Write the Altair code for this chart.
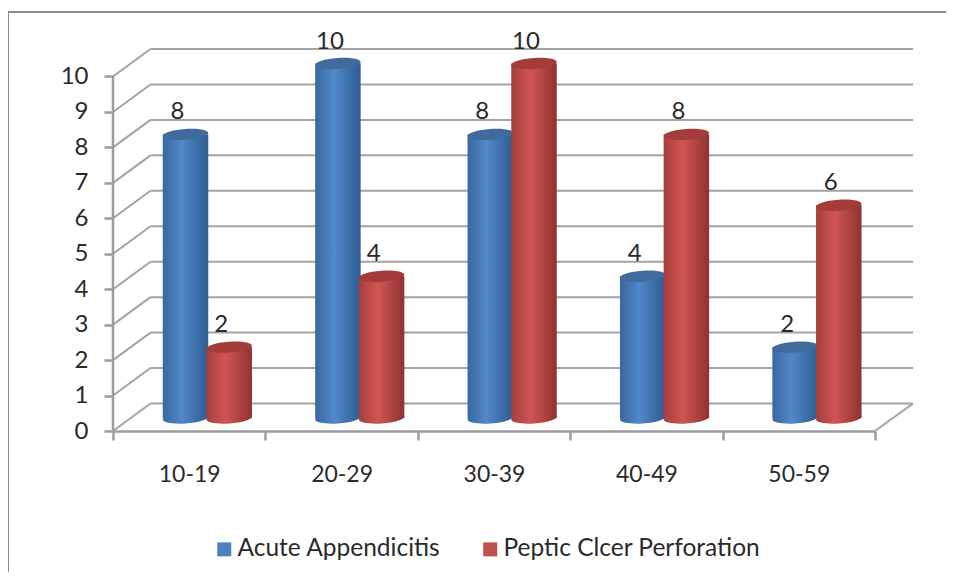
import altair as alt
import pandas as pd

categories = ["10-19", "20-29", "30-39", "40-49", "50-59"]
acute = [8, 10, 8, 4, 2]
peptic = [2, 4, 10, 8, 6]
series_names = ["Acute Appendicitis", "Peptic Clcer Perforation"]
legend_colors = ["#4f81bd", "#c0504d"]
levels = list(range(0, 11))

FONT = "Lato"
GRID = "#a3a3a3"
AXIS = "#9c9c9c"
DEPTH_Y = 27.5 / 35.45
ELLIPSE = "M-1,0.07 A1,0.24,-4,1,1,1,-0.07 A1,0.24,-4,1,1,-1,0.07 Z"

blue = pd.DataFrame({"cat": categories, "v": acute})
red = pd.DataFrame({"cat": categories, "v": peptic})
lv = pd.DataFrame({"v": levels})
lv["back"] = lv["v"] + DEPTH_Y
floor_df = pd.DataFrame({"v": [0], "back": [DEPTH_Y], "top": [10]})
leg = pd.DataFrame({"cat": [categories[0]] * 2, "s": series_names, "v": [0, 0]})

yscale = alt.Scale(domain=[0, 382 / 35.45], range=[382, 0], nice=False, zero=False)
xscale = alt.Scale(domain=categories, range=[0, 762], paddingInner=0, paddingOuter=0)
x_axis = alt.Axis(tickBand="extent", labelAngle=0, labelFont=FONT, labelFontSize=23,
                  labelColor="#2a2a2a", labelPadding=23, tickSize=9, tickWidth=2.5,
                  tickColor=AXIS, domainColor=AXIS, domainWidth=2.5, grid=False)
y_axis = alt.Axis(values=levels, format="d", labelFont=FONT, labelFontSize=24,
                  labelColor="#2a2a2a", labelPadding=16, tickSize=9, tickWidth=2.5,
                  tickColor=AXIS, domain=False, grid=False, labelOverlap=False)
X = alt.X("cat:N", scale=xscale, sort=categories, title=None, axis=x_axis)
Y = alt.Y("v:Q", scale=yscale, title=None, axis=y_axis)
Yb = alt.Y("back:Q", scale=yscale, title=None, axis=y_axis)


def grad(edge0, mid, edge1):
    return alt.Gradient(gradient="linear", x1=0, x2=1, y1=0, y2=0, stops=[
        alt.GradientStop(color=edge0, offset=0),
        alt.GradientStop(color=mid, offset=0.42),
        alt.GradientStop(color=edge1, offset=1),
    ])


BLUE = grad("#3a689f", "#5088c9", "#2f5c91")
RED = grad("#a53f3d", "#d05553", "#8f3331")
OFF_Y = -13
SIZE = 45.5 ** 2


def cylinder(df, dx, body, top):
    base = alt.Chart(df)
    bottom = base.mark_point(shape=ELLIPSE, filled=True, size=SIZE, fill=body, opacity=1,
                             strokeWidth=0, xOffset=dx, yOffset=OFF_Y).encode(
        x=X, y=alt.datum(0, scale=yscale, title=None, axis=y_axis))
    bar = base.mark_bar(size=45.5, fill=body, xOffset=dx, yOffset=OFF_Y, y2Offset=OFF_Y).encode(
        x=X, y=Y, y2=alt.datum(0))
    cap = base.mark_point(shape=ELLIPSE, filled=True, size=SIZE, fill=top, opacity=1,
                          strokeWidth=0, xOffset=dx, yOffset=OFF_Y).encode(x=X, y=Y)
    label = base.mark_text(font=FONT, fontSize=24, color="#2a2a2a", xOffset=dx - 8,
                           yOffset=OFF_Y - 22, baseline="middle").encode(
        x=X, y=Y, text=alt.Text("v:Q"))
    return [bottom, bar, cap, label]


wall = alt.Chart(lv).mark_rule(color=GRID, strokeWidth=2).encode(
    x=alt.value(37.5), x2=alt.value(800), y=Yb)
side = alt.Chart(lv).mark_rule(color=GRID, strokeWidth=2).encode(
    x=alt.value(0), x2=alt.value(37.5), y=Y, y2="back:Q")
right = alt.Chart(floor_df).mark_rule(color=GRID, strokeWidth=2).encode(
    x=alt.value(762), x2=alt.value(800), y=Y, y2="back:Q")
yline = alt.Chart(floor_df).mark_rule(color=AXIS, strokeWidth=2.5).encode(
    x=alt.value(0), y=Y, y2="top:Q")
frame_top = alt.Chart(floor_df).mark_rule(color="#8c8c8c", strokeWidth=2).encode(
    x=alt.value(-105), x2=alt.value(833), y=alt.value(-37))
frame_left = alt.Chart(floor_df).mark_rule(color="#8c8c8c", strokeWidth=2).encode(
    x=alt.value(-105), y=alt.value(-38), y2=alt.value(523))
axes = alt.Chart(blue).mark_point(opacity=0).encode(x=X, y=Y)
legend = alt.Chart(leg).mark_square(size=0).encode(
    x=X, y=Y,
    color=alt.Color("s:N", sort=series_names,
                    scale=alt.Scale(domain=series_names, range=legend_colors),
                    legend=alt.Legend(orient="none", legendX=99, legendY=488, direction="horizontal",
                                      title=None, symbolType="square", symbolSize=196,
                                      symbolOpacity=1, symbolStrokeWidth=0,
                                      labelFont=FONT, labelFontSize=24.5, labelColor="#2a2a2a",
                                      labelLimit=400, columnPadding=37, labelOffset=1,
                                      columns=2)))

layers = [frame_top, frame_left, wall, side, right, yline, axes, legend]
layers += cylinder(blue, -3.7, BLUE, "#3f6b9f")
layers += cylinder(red, 40, RED, "#a33c3a")

chart = alt.layer(*layers).properties(
    width=800, height=382, autosize=alt.AutoSizeParams(type="none"),
    padding={"left": 105, "top": 41, "right": 33, "bottom": 141},
    background="white",
).configure_view(stroke=None)

chart.save("out.html", embed_options={"renderer": "svg", "actions": False})
